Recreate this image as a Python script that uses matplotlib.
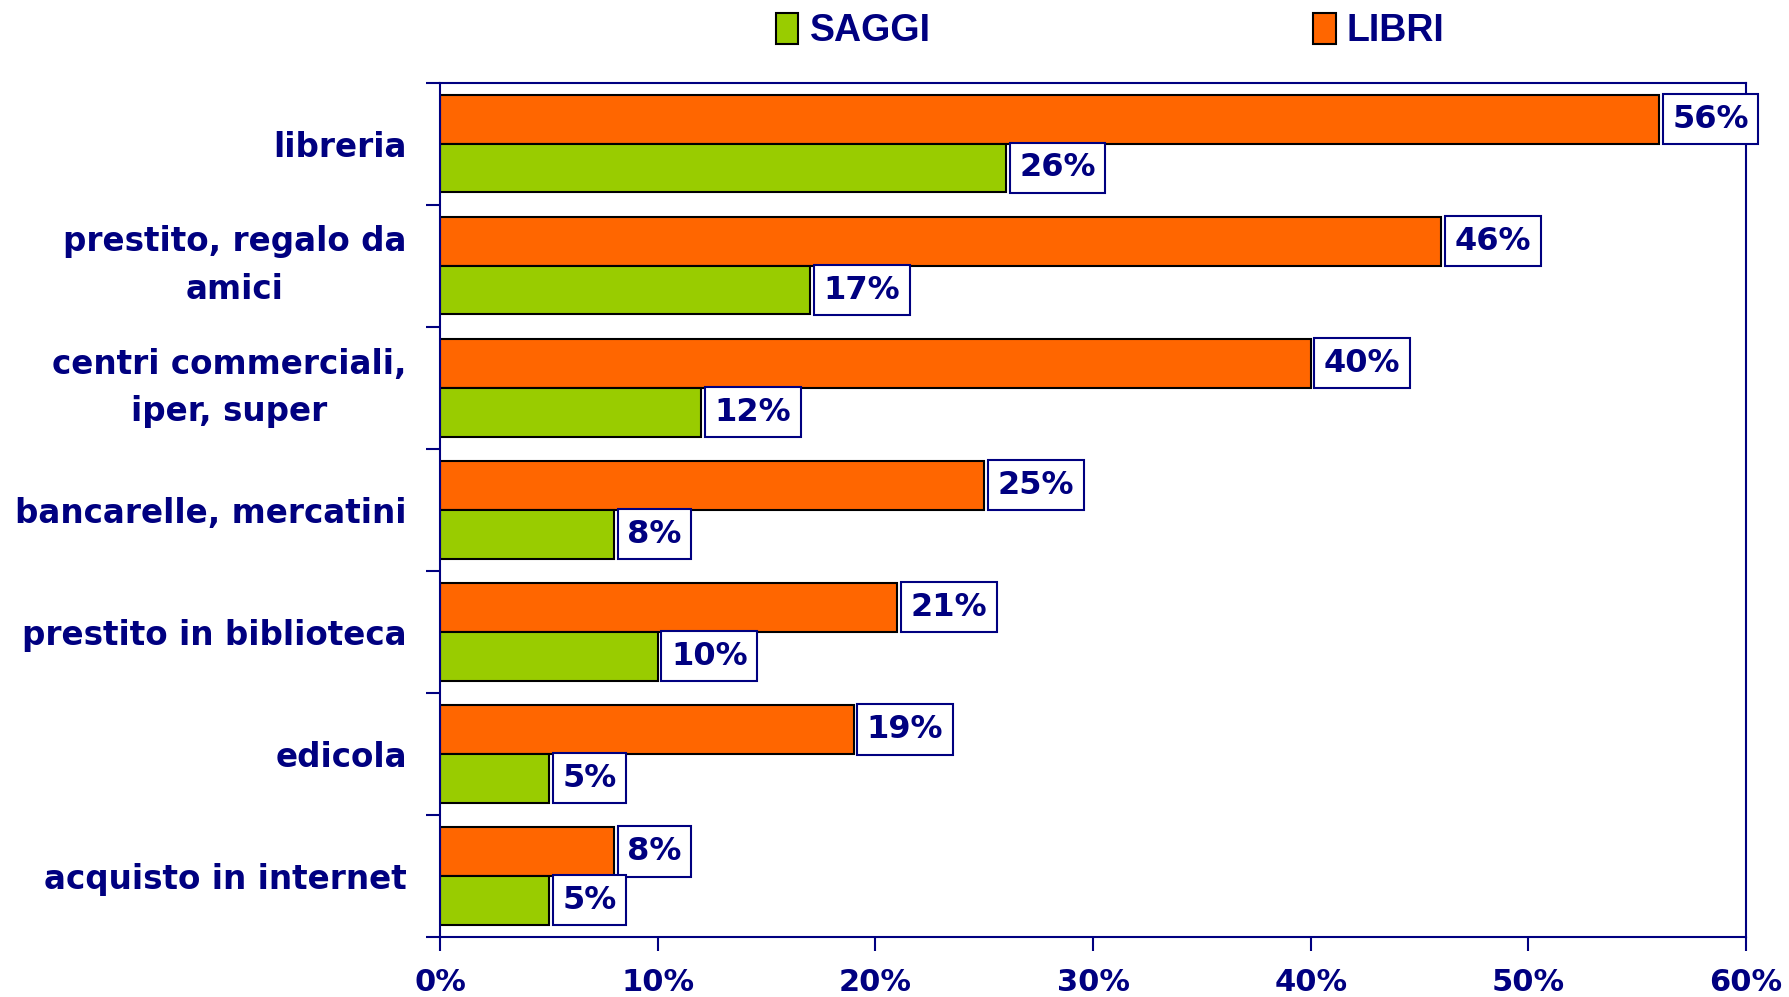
import numpy as np
import matplotlib.pyplot as plt
from matplotlib.patches import Patch

# data
categories = ['libreria', 'prestito, regalo da\namici', 'centri commerciali,\niper, super',
              'bancarelle, mercatini', 'prestito in biblioteca', 'edicola', 'acquisto in internet']
libri = [56, 46, 40, 25, 21, 19, 8]
saggi = [26, 17, 12, 8, 10, 5, 5]
xticks = [0, 10, 20, 30, 40, 50, 60]

navy = '#000080'
orange = '#FF6600'
green = '#99CC00'

plt.rcParams['font.family'] = ['DejaVu Sans']

fig = plt.figure(figsize=(17.89, 9.97), dpi=100)
ax = fig.add_axes([0.246, 0.0602, 0.730, 0.857])

y = np.arange(len(categories))
h = 0.4
ax.barh(y - h / 2, libri, height=h, color=orange, edgecolor='black', linewidth=1.5, label='LIBRI')
ax.barh(y + h / 2, saggi, height=h, color=green, edgecolor='black', linewidth=1.5, label='SAGGI')

# value labels in boxes
fs_val = 23
box = dict(boxstyle='square,pad=0.3', facecolor='white', edgecolor=navy, linewidth=1.5)
for i in range(len(categories)):
    for val, off in [(libri[i], -h / 2), (saggi[i], h / 2)]:
        ax.annotate(f'{val}%', xy=(val, y[i] + off), xytext=(9.5, 0), textcoords='offset points',
                    ha='left', va='center', fontsize=fs_val, fontweight='bold', color=navy, bbox=box)

ax.set_xlim(0, 60)
ax.set_ylim(len(categories) - 0.5, -0.5)
ax.set_xticks(xticks)
ax.set_xticklabels([f'{t}%' for t in xticks], fontsize=22, fontweight='bold', color=navy)
ax.set_yticks(y)
ax.set_yticklabels(categories, fontsize=23.5, fontweight='bold', color=navy,
                   multialignment='center', linespacing=1.55)
# two-line labels: center the whole block
for lbl in ax.get_yticklabels():
    if '\n' in lbl.get_text():
        lbl.set_verticalalignment('center')
ax.set_yticks(np.arange(len(categories) + 1) - 0.5, minor=True)

ax.tick_params(axis='y', which='major', length=0, pad=24)
ax.tick_params(axis='y', which='minor', length=10, width=1.5, color=navy, direction='out')
ax.tick_params(axis='x', which='major', length=10, width=1.5, color=navy, direction='out', pad=12)

for s in ax.spines.values():
    s.set_color(navy)
    s.set_linewidth(1.5)

handles = [Patch(facecolor=green, edgecolor='black', linewidth=1.5, label='SAGGI'),
           Patch(facecolor=orange, edgecolor='black', linewidth=1.5, label='LIBRI')]
fig.legend(handles=handles, loc='center', bbox_to_anchor=(0.6206, 0.969), ncol=2, frameon=False,
           prop={'family': ['Liberation Sans', 'DejaVu Sans'], 'weight': 'bold', 'size': 27},
           labelcolor=navy, handlelength=0.6, handleheight=0.9, handletextpad=0.3,
           columnspacing=10.2)

fig.savefig('out.png', dpi=100)
